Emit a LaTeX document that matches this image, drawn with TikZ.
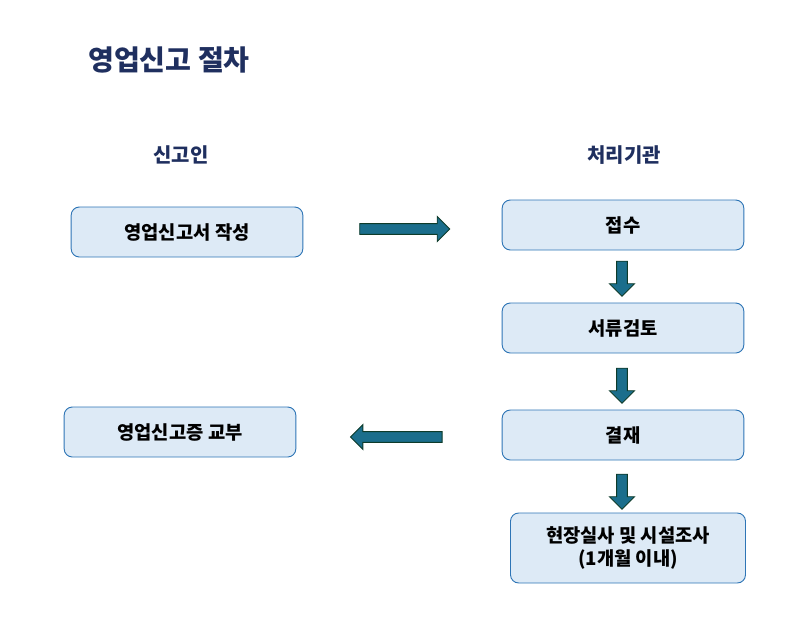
\documentclass[tikz,border=0pt]{standalone}
\usepackage{fontspec}
\setmainfont{Noto Sans CJK KR}
\usetikzlibrary{shapes.arrows, positioning}
\definecolor{navy}{HTML}{1F2F5F}
\definecolor{boxfill}{HTML}{DDEAF6}
\definecolor{boxline}{HTML}{2E75B6}
\definecolor{arrowfill}{HTML}{1B6E8C}
\definecolor{arrowline}{HTML}{0E3B2A}
\tikzset{
  stage/.style={rectangle, rounded corners=7pt, draw=boxline, fill=boxfill, thick, text centered, font=\bfseries\fontsize{16}{20}\selectfont, align=center},
  head/.style={font=\bfseries\fontsize{17}{20}\selectfont, text=navy},
  blockarrow/.style={single arrow, draw=arrowline, fill=arrowfill, thick, minimum width=0.75cm, single arrow head extend=0.2cm, inner xsep=0pt, inner ysep=0.14cm, single arrow tip angle=90},
}
\begin{document}
\begin{tikzpicture}[x=0.03cm, y=-0.03cm]
    \useasboundingbox (0,0) rectangle (804,643);
    \node (title) [anchor=west, font=\bfseries\fontsize{24}{28}\selectfont, text=navy] at (84,60) {영업신고 절차};
    \node (applicant) [head] at (181,155) {신고인};
    \node (agency) [head] at (624,155) {처리기관};

    \node (write) [stage, minimum width=6.95cm, minimum height=1.5cm] at (187,232) {영업신고서 작성};
    \node (receive) [stage, minimum width=7.25cm, minimum height=1.5cm] at (623,225) {접수};
    \node (review) [stage, minimum width=7.25cm, minimum height=1.5cm] at (623,328) {서류검토};
    \node (approve) [stage, minimum width=7.25cm, minimum height=1.5cm] at (623,435) {결재};
    \node (inspect) [stage, minimum width=7.05cm, minimum height=2.1cm] at (628,548) {현장실사 및 시설조사\\(1개월 이내)};
    \node (issue) [stage, minimum width=6.95cm, minimum height=1.5cm] at (180,432) {영업신고증 교부};

    \node (a1) [blockarrow, minimum height=2.7cm] at (402,229) {};
    \node (a2) [blockarrow, minimum height=1.05cm, rotate=-90] at (622,276) {};
    \node (a3) [blockarrow, minimum height=1.05cm, rotate=-90] at (622,383) {};
    \node (a4) [blockarrow, minimum height=1.05cm, rotate=-90] at (622,489) {};
    \node (a5) [blockarrow, minimum height=2.75cm, rotate=180] at (399,437) {};
\end{tikzpicture}
\end{document}
